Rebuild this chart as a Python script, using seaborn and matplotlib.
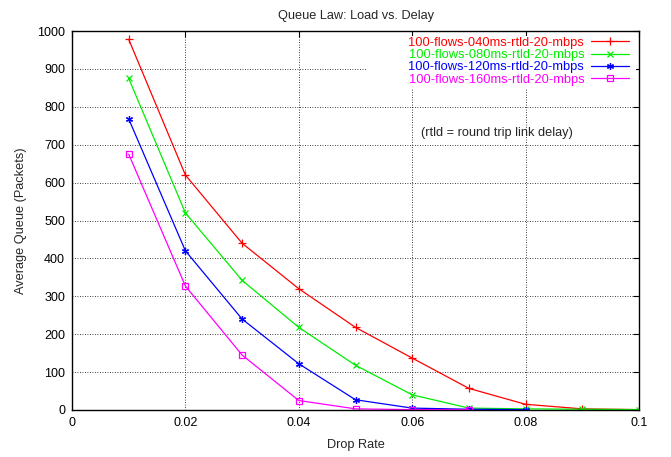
import matplotlib
matplotlib.use("Agg")
import matplotlib.pyplot as plt
from matplotlib.patches import Rectangle
import seaborn as sns
import pandas as pd

labels = ["100-flows-040ms-rtld-20-mbps", "100-flows-080ms-rtld-20-mbps",
          "100-flows-120ms-rtld-20-mbps", "100-flows-160ms-rtld-20-mbps"]
colors = ["#ff0000", "#00ee00", "#0000ff", "#ff00ff"]

x_red = [0.01, 0.02, 0.03, 0.04, 0.05, 0.06, 0.07, 0.08, 0.09, 0.10]
y_red = [978, 620, 440, 320, 218, 137, 57, 15, 3, 1]
x_green = [0.01, 0.02, 0.03, 0.04, 0.05, 0.06, 0.07, 0.08, 0.09, 0.10]
y_green = [875, 520, 342, 218, 118, 40, 5, 3, 2, 1]
x_blue = [0.01, 0.02, 0.03, 0.04, 0.05, 0.06, 0.07, 0.08]
y_blue = [768, 420, 240, 122, 27, 5, 2, 1]
x_mag = [0.01, 0.02, 0.03, 0.04, 0.05, 0.06, 0.07]
y_mag = [675, 327, 145, 25, 3, 1, 1]

xticks = [0, 0.02, 0.04, 0.06, 0.08, 0.1]
xticklabels = ["0", "0.02", "0.04", "0.06", "0.08", "0.1"]
yticks = [0, 100, 200, 300, 400, 500, 600, 700, 800, 900, 1000]

sns.set_style("white")
plt.rcParams['font.family'] = ['Liberation Sans', 'DejaVu Sans']

fig = plt.figure(figsize=(6.71, 4.57), dpi=100)
ax = fig.add_axes([72/671, 1-410/457, (639-72)/671, (410-31)/457])

series = [(x_red, y_red), (x_green, y_green), (x_blue, y_blue), (x_mag, y_mag)]
markers = ["+", "x", (6, 2, 0), "s"]
msizes = [5.5, 5, 5, 4.5]
for (xs, ys), lab, c, m, ms in zip(series, labels, colors, markers, msizes):
    df = pd.DataFrame({"x": xs, "y": ys})
    kw = dict(markerfacecolor="none", markeredgecolor=c) if m == "s" else dict(markeredgecolor=c)
    sns.lineplot(data=df, x="x", y="y", ax=ax, color=c, marker=m, markersize=ms,
                 markeredgewidth=0.9, linewidth=0.9, label=lab, zorder=3, **kw)

ax.set_xlim(0, 0.1)
ax.set_ylim(0, 1000)
ax.set_xticks(xticks)
ax.set_xticklabels(xticklabels)
ax.set_yticks(yticks)
ax.tick_params(direction="in", length=4, width=0.8, labelsize=9, top=True, right=True,
               colors="black", pad=5)
for s in ax.spines.values():
    s.set_linewidth(1.0)
    s.set_color("black")
    s.set_zorder(4)
ax.grid(True, color="black", linestyle=(0, (1, 2)), linewidth=0.6)
ax.set_axisbelow(True)

# white key box (as in gnuplot)
ax.add_patch(Rectangle((0.052, 850), 0.0475, 138, facecolor="white", edgecolor="none", zorder=1))

ax.set_title("Queue Law: Load vs. Delay", fontsize=9.2, pad=9)
ax.set_xlabel("Drop Rate", fontsize=9.2, labelpad=7)
ax.set_ylabel("Average Queue (Packets)", fontsize=9.2, labelpad=7)

leg = ax.legend(loc="upper right", bbox_to_anchor=(0.99, 0.995), markerfirst=False,
                frameon=False, fontsize=9.3, handlelength=3.0,
                handletextpad=0.5, labelspacing=0.02, borderpad=0.3, borderaxespad=0)
for t, c in zip(leg.get_texts(), colors):
    t.set_color(c)

ax.text(0.075, 730, "(rtld = round trip link delay)", fontsize=9.2, ha="center", va="center")

fig.savefig("out.png", dpi=100)
